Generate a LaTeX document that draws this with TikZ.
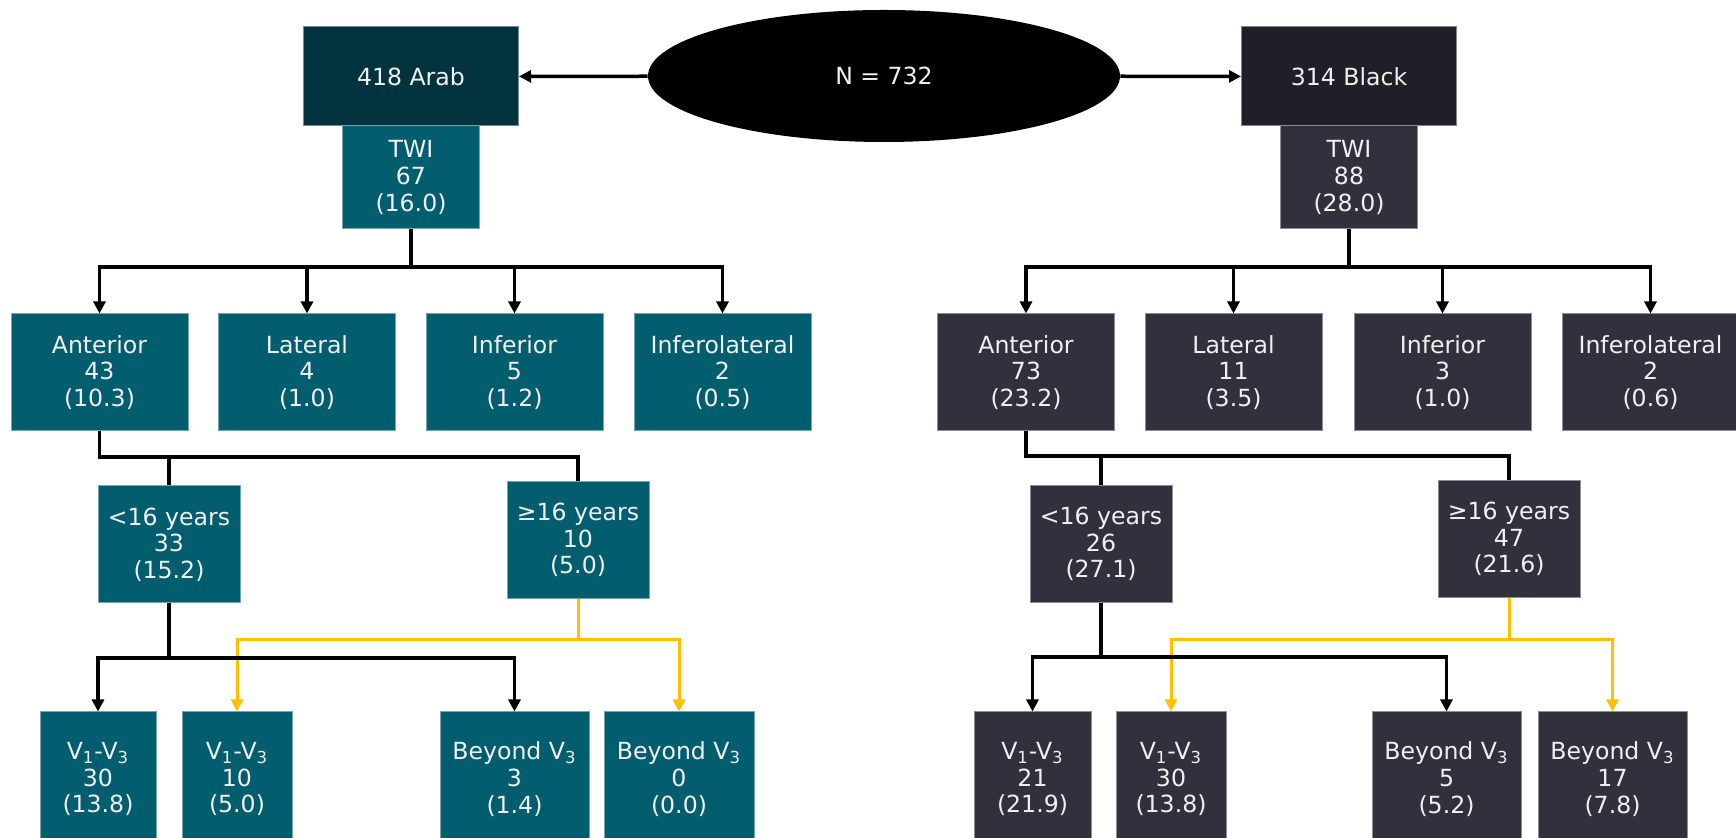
\documentclass[tikz,border=0pt]{standalone}
\usepackage{fontspec}
\setmainfont{DejaVu Sans}
\usepackage{tikz}
\usetikzlibrary{arrows.meta, shapes.geometric}
\definecolor{arabhead}{HTML}{02333F}
\definecolor{arabbox}{HTML}{025D6F}
\definecolor{blackhead}{HTML}{1F1F28}
\definecolor{blackbox}{HTML}{30313D}
\definecolor{olderyellow}{HTML}{FFC000}

\begin{document}
\begin{tikzpicture}[x=0.5pt,
				y=-0.5pt,
				>={Triangle[length=6pt, width=6pt]},
				font=\fontsize{11.8}{13.3}\selectfont,
				every node/.style={text=white!94!black, align=center, inner sep=2pt},
				box/.style={rectangle, draw=#1!55!white, line width=0.5pt, fill=#1, minimum height=58.5pt},
				link/.style={line width=1.75pt, black},
				olderlink/.style={line width=1.5pt, olderyellow}]
				\clip (0,0) rectangle (1736,838);
				% top row
				\node[ellipse, fill=black, minimum width=236pt, minimum height=66pt, inner sep=0pt] at (884,76) (total) {N = 732};
				\node[box=arabhead, minimum width=107.5pt, minimum height=49.5pt] at (411,76.5) (arab) {418 Arab};
				\node[box=blackhead, minimum width=107.5pt, minimum height=49.5pt] at (1349,76.5) (blk) {314 Black};
				\node[box=arabbox, minimum width=68.5pt, minimum height=51.5pt] at (411,177.5) (twiA) {TWI\\67\\(16.0)};
				\node[box=blackbox, minimum width=68.5pt, minimum height=51.5pt] at (1349,177.5) (twiB) {TWI\\88\\(28.0)};
				% territories
				\node[box=arabbox, minimum width=88.5pt] at (99.5,372.5) (antA) {Anterior\\43\\(10.3)};
				\node[box=arabbox, minimum width=88.5pt] at (307,372.5) (latA) {Lateral\\4\\(1.0)};
				\node[box=arabbox, minimum width=88.5pt] at (514.5,372.5) (infA) {Inferior\\5\\(1.2)};
				\node[box=arabbox, minimum width=88.5pt] at (722.5,372.5) (ilA) {Inferolateral\\2\\(0.5)};
				\node[box=blackbox, minimum width=88.5pt] at (1026,372.5) (antB) {Anterior\\73\\(23.2)};
				\node[box=blackbox, minimum width=88.5pt] at (1233.5,372.5) (latB) {Lateral\\11\\(3.5)};
				\node[box=blackbox, minimum width=88.5pt] at (1442.5,372.5) (infB) {Inferior\\3\\(1.0)};
				\node[box=blackbox, minimum width=88.5pt] at (1650.5,372.5) (ilB) {Inferolateral\\2\\(0.6)};
				% age groups
				\node[box=arabbox, minimum width=71pt] at (169,544.5) (youngA) {<16 years\\33\\(15.2)};
				\node[box=arabbox, minimum width=71pt] at (578,540) (olderA) {≥16 years\\10\\(5.0)};
				\node[box=blackbox, minimum width=71pt] at (1101,544) (youngB) {<16 years\\26\\(27.1)};
				\node[box=blackbox, minimum width=71pt] at (1509,539) (olderB) {≥16 years\\47\\(21.6)};
				% leads
				\node[box=arabbox, minimum width=58pt, minimum height=67pt] at (98,779) (vaA) {V\textsubscript{1}-V\textsubscript{3}\\30\\(13.8)};
				\node[box=arabbox, minimum width=55pt, minimum height=67pt] at (237,779) (vbA) {V\textsubscript{1}-V\textsubscript{3}\\10\\(5.0)};
				\node[box=arabbox, minimum width=74.5pt, minimum height=67pt] at (514.5,779) (vcA) {Beyond V\textsubscript{3}\\3\\(1.4)};
				\node[box=arabbox, minimum width=75pt, minimum height=67pt] at (679,779) (vdA) {Beyond V\textsubscript{3}\\0\\(0.0)};
				\node[box=blackbox, minimum width=58.5pt, minimum height=67pt] at (1032.5,779) (vaB) {V\textsubscript{1}-V\textsubscript{3}\\21\\(21.9)};
				\node[box=blackbox, minimum width=55pt, minimum height=67pt] at (1171,779) (vbB) {V\textsubscript{1}-V\textsubscript{3}\\30\\(13.8)};
				\node[box=blackbox, minimum width=74.5pt, minimum height=67pt] at (1446.5,779) (vcB) {Beyond V\textsubscript{3}\\5\\(5.2)};
				\node[box=blackbox, minimum width=74.5pt, minimum height=67pt] at (1612.5,779) (vdB) {Beyond V\textsubscript{3}\\17\\(7.8)};
				% split points
				\coordinate (busA) at (411,267);
				\coordinate (busB) at (1349,267);
				\coordinate (ageA) at (99.5,457);
				\coordinate (ageB) at (1026,456);
				\coordinate (youngsplitA) at (169,658);
				\coordinate (youngsplitB) at (1101,657);
				\coordinate (oldersplitA) at (578,640);
				\coordinate (oldersplitB) at (1509,640);
				% connectors
				\draw[link, ->] (total) -- (arab);
				\draw[link, ->] (total) -- (blk);
				\draw[link] (twiA) -- (busA);
				\draw[link, ->] (busA) -| (antA.north);
				\draw[link, ->] (busA) -| (latA.north);
				\draw[link, ->] (busA) -| (infA.north);
				\draw[link, ->] (busA) -| (ilA.north);
				\draw[link] (twiB) -- (busB);
				\draw[link, ->] (busB) -| (antB.north);
				\draw[link, ->] (busB) -| (latB.north);
				\draw[link, ->] (busB) -| (infB.north);
				\draw[link, ->] (busB) -| (ilB.north);
				\draw[link] (antA) -- (ageA) -| (olderA.north);
				\draw[link] (youngA.north) -- (youngA.north |- ageA);
				\draw[link] (antB) -- (ageB) -| (olderB.north);
				\draw[link] (youngB.north) -- (youngB.north |- ageB);
				\draw[olderlink] (olderA) -- (oldersplitA);
				\draw[olderlink, ->] (oldersplitA) -| (vbA.north);
				\draw[olderlink, ->] (oldersplitA) -| (vdA.north);
				\draw[olderlink] (olderB) -- (oldersplitB);
				\draw[olderlink, ->] (oldersplitB) -| (vbB.north);
				\draw[olderlink, ->] (oldersplitB) -| (vdB.north);
				\draw[link] (youngA) -- (youngsplitA);
				\draw[link, ->] (youngsplitA) -| (vaA.north);
				\draw[link, ->] (youngsplitA) -| (vcA.north);
				\draw[link] (youngB) -- (youngsplitB);
				\draw[link, ->] (youngsplitB) -| (vaB.north);
				\draw[link, ->] (youngsplitB) -| (vcB.north);
			\end{tikzpicture}
\end{document}
